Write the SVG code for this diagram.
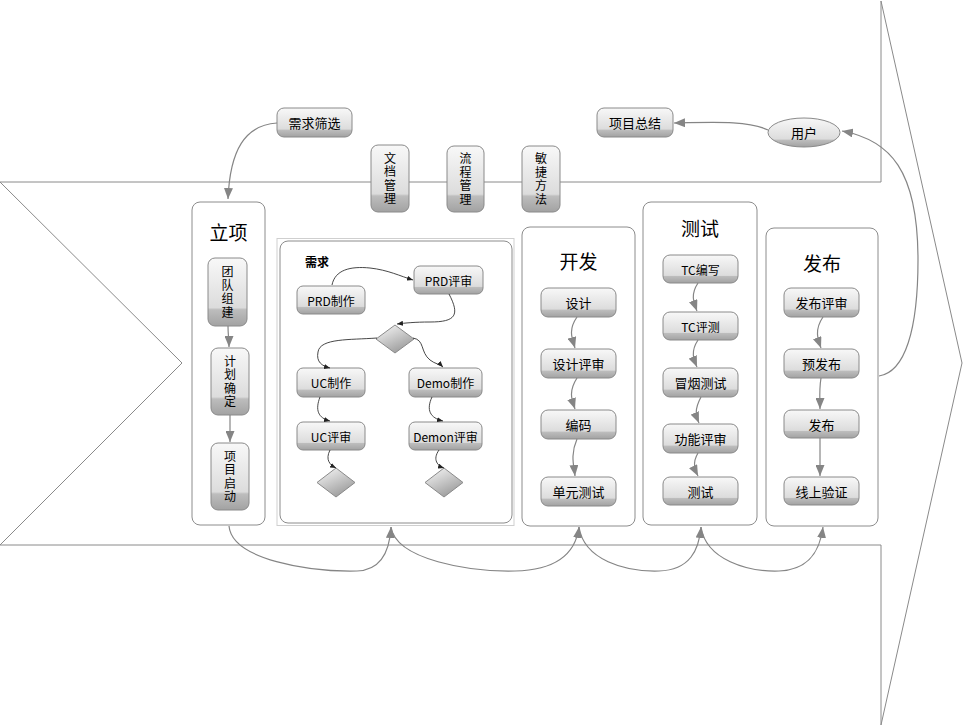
<svg xmlns="http://www.w3.org/2000/svg" width="965" height="727" viewBox="0 0 965 727">
<style>
text{font-family:"Noto Sans CJK SC","Liberation Sans",sans-serif;fill:#000;dominant-baseline:central;text-anchor:middle}
.nt{font-size:13px}
.ns{font-size:12px}
.vt{font-size:12px;writing-mode:vertical-rl;letter-spacing:1.5px}
.tt{font-size:19px}
.lbl{font-size:12px;font-weight:bold;text-anchor:start}
.node{fill:url(#g);stroke:#8a8a8a;stroke-width:1}
.box{fill:#fff;stroke:#8c8c8c;stroke-width:1}
.dia{fill:url(#gd);stroke:#8a8a8a;stroke-width:1}
.c{fill:none;stroke:#858585;stroke-width:1.2;marker-end:url(#ah)}
.ci{fill:none;stroke:#333;stroke-width:0.9;marker-end:url(#as)}
.bg{fill:none;stroke:#8a8a8a;stroke-width:1}
</style>
<defs>
<linearGradient id="g" x1="0" y1="0" x2="0" y2="1">
<stop offset="0" stop-color="#f8f8f8"/>
<stop offset="0.73" stop-color="#dcdcdc"/>
<stop offset="0.76" stop-color="#bdbdbd"/>
<stop offset="1" stop-color="#a2a2a2"/>
</linearGradient>
<linearGradient id="gd" x1="0" y1="0" x2="0.6" y2="1">
<stop offset="0" stop-color="#fbfbfb"/>
<stop offset="1" stop-color="#9c9c9c"/>
</linearGradient>
<marker id="ah" markerUnits="userSpaceOnUse" markerWidth="11" markerHeight="9" refX="11" refY="4.5" orient="auto">
<path d="M0,0 L11,4.5 L0,9 z" fill="#858585"/>
</marker>
<marker id="as" markerUnits="userSpaceOnUse" markerWidth="6" markerHeight="5" refX="6" refY="2.5" orient="auto">
<path d="M0,0 L6,2.5 L0,5 z" fill="#222"/>
</marker>
</defs>
<rect width="965" height="727" fill="#fff"/>
<polygon class="bg" points="0,182 881,182 881,1 962,363 881,725 881,545 0,545 182,363"/>

<g id="n-xqsx"><rect class="node" x="277" y="108" width="75" height="29" rx="7"/><text class="nt" x="314.5" y="122.5">需求筛选</text></g>
<g id="n-wdgl"><rect class="node" x="371" y="145" width="38" height="67" rx="7"/><text class="vt" x="390" y="179">文档管理</text></g>
<g id="n-lcgl"><rect class="node" x="447" y="146" width="37" height="66" rx="7"/><text class="vt" x="465.5" y="179.5">流程管理</text></g>
<g id="n-mjff"><rect class="node" x="522" y="146" width="38" height="66" rx="7"/><text class="vt" x="541" y="179.5">敏捷方法</text></g>
<g id="n-xmzj"><rect class="node" x="597" y="108" width="76" height="29" rx="7"/><text class="nt" x="635" y="122.5">项目总结</text></g>
<g id="n-yh"><ellipse class="node" cx="804" cy="132.5" rx="36" ry="14.5"/><text class="nt" x="804" y="132">用户</text></g>

<g id="g-lx"><rect class="box" x="192" y="202" width="73" height="323" rx="8"/><text class="tt" x="228.5" y="231">立项</text></g>
<g id="n-tdzj"><rect class="node" x="208" y="258" width="39" height="68" rx="7"/><text class="vt" x="227.5" y="292.5">团队组建</text></g>
<g id="n-jhqd"><rect class="node" x="211" y="348" width="38" height="67" rx="7"/><text class="vt" x="230" y="382">计划确定</text></g>
<g id="n-xmqd"><rect class="node" x="211" y="443" width="38" height="67" rx="7"/><text class="vt" x="230" y="477">项目启动</text></g>

<g id="g-xq"><rect x="277" y="238.5" width="237" height="287" fill="none" stroke="#cfcfcf" stroke-width="1"/><rect class="box" x="280" y="241" width="232" height="282" rx="8"/><text class="lbl" x="305" y="261">需求</text></g>
<g id="n-prdzz"><rect class="node" x="297" y="286" width="68" height="28" rx="6"/><text class="ns" x="331" y="300">PRD制作</text></g>
<g id="n-prdps"><rect class="node" x="414" y="266" width="69" height="28" rx="6"/><text class="ns" x="448.5" y="280">PRD评审</text></g>
<g id="n-d1"><polygon class="dia" points="395,325 414,339 395,353 376,339"/></g>
<g id="n-uczz"><rect class="node" x="297" y="368" width="68" height="29" rx="6"/><text class="ns" x="331" y="382.5">UC制作</text></g>
<g id="n-demozz"><rect class="node" x="409" y="368" width="73" height="29" rx="6"/><text class="ns" x="445.5" y="382.5">Demo制作</text></g>
<g id="n-ucps"><rect class="node" x="297" y="422" width="68" height="28" rx="6"/><text class="ns" x="331" y="436">UC评审</text></g>
<g id="n-demops"><rect class="node" x="409" y="422" width="73" height="28" rx="6"/><text class="ns" x="445.5" y="436">Demon评审</text></g>
<g id="n-d2"><polygon class="dia" points="336,468 355,482.5 336,497 317,482.5"/></g>
<g id="n-d3"><polygon class="dia" points="444,468 463,482.5 444,497 425,482.5"/></g>

<g id="g-kf"><rect class="box" x="522" y="227" width="113" height="299" rx="8"/><text class="tt" x="578.5" y="260">开发</text></g>
<g id="n-sj"><rect class="node" x="541" y="288" width="75" height="29" rx="7"/><text class="nt" x="578.5" y="302.5">设计</text></g>
<g id="n-sjps"><rect class="node" x="541" y="349" width="75" height="29" rx="7"/><text class="nt" x="578.5" y="363.5">设计评审</text></g>
<g id="n-bm"><rect class="node" x="541" y="410" width="75" height="29" rx="7"/><text class="nt" x="578.5" y="424.5">编码</text></g>
<g id="n-dycs"><rect class="node" x="541" y="477" width="75" height="29" rx="7"/><text class="nt" x="578.5" y="491.5">单元测试</text></g>

<g id="g-cs"><rect class="box" x="643" y="202" width="114" height="323" rx="8"/><text class="tt" x="700" y="227">测试</text></g>
<g id="n-tcbx"><rect class="node" x="663" y="255" width="75" height="28" rx="7"/><text class="ns" x="700.5" y="269">TC编写</text></g>
<g id="n-tcpc"><rect class="node" x="663" y="312" width="75" height="28" rx="7"/><text class="ns" x="700.5" y="326">TC评测</text></g>
<g id="n-mycs"><rect class="node" x="663" y="368" width="75" height="29" rx="7"/><text class="nt" x="700.5" y="382.5">冒烟测试</text></g>
<g id="n-gnps"><rect class="node" x="663" y="424" width="75" height="29" rx="7"/><text class="nt" x="700.5" y="438.5">功能评审</text></g>
<g id="n-cs"><rect class="node" x="663" y="477" width="75" height="28" rx="7"/><text class="nt" x="700.5" y="491">测试</text></g>

<g id="g-fb"><rect class="box" x="766" y="228" width="112" height="298" rx="8"/><text class="tt" x="822" y="262">发布</text></g>
<g id="n-fbps"><rect class="node" x="784" y="288" width="75" height="29" rx="7"/><text class="nt" x="821.5" y="302.5">发布评审</text></g>
<g id="n-yfb"><rect class="node" x="784" y="349" width="75" height="29" rx="7"/><text class="nt" x="821.5" y="363.5">预发布</text></g>
<g id="n-fb"><rect class="node" x="784" y="410" width="75" height="28" rx="7"/><text class="nt" x="821.5" y="424">发布</text></g>
<g id="n-sxyz"><rect class="node" x="784" y="477" width="75" height="28" rx="7"/><text class="nt" x="821.5" y="491">线上验证</text></g>

<g id="connectors">
<path class="c" d="M277,123 C245,125 230,150 228,199"/>
<path class="c" d="M768,130 C750,121 720,122 674,123"/>
<path class="c" d="M879,376 C905,372 918,330 918,260 C918,170 890,140 842,131"/>

<path class="c" d="M228,326 C228,334 229,340 229,347"/>
<path class="c" d="M230,415 C230,425 230,433 230,442"/>

<path class="ci" d="M332,285 C335,270 350,266 370,268 C388,270 400,276 413,280"/>
<path class="ci" d="M449,294 C460,315 456,322 430,322 C415,322 405,323 397,324"/>
<path class="ci" d="M377,338 C350,340 320,338 318,352 C316,362 322,366 330,368"/>
<path class="ci" d="M413,338 C425,340 420,352 430,360 C435,364 440,364 443,367"/>
<path class="ci" d="M320,397 C315,410 318,418 330,421"/>
<path class="ci" d="M432,397 C426,410 430,418 443,421"/>
<path class="ci" d="M330,450 C325,460 330,465 336,468"/>
<path class="ci" d="M439,450 C432,460 438,466 444,468"/>

<path class="c" d="M577,317 C568,330 572,338 575,348"/>
<path class="c" d="M577,378 C568,392 572,400 575,409"/>
<path class="c" d="M577,439 C570,455 574,466 575,476"/>

<path class="c" d="M698,283 C690,295 694,303 697,311"/>
<path class="c" d="M698,340 C690,352 694,360 697,367"/>
<path class="c" d="M701,397 C694,410 696,416 699,423"/>
<path class="c" d="M698,453 C692,463 695,470 698,476"/>

<path class="c" d="M823,317 C814,330 818,340 821,348"/>
<path class="c" d="M821,378 C819,390 820,400 820,409"/>
<path class="c" d="M820,438 L820,476"/>

<path class="c" d="M229,526 C232,560 310,572 357,571 C385,570 390,545 391,527"/>
<path class="c" d="M391,527 C396,560 470,572 515,571 C560,570 576,550 579,527"/>
<path class="c" d="M579,527 C584,560 625,572 659,571 C690,570 699,550 701,527"/>
<path class="c" d="M701,527 C706,560 748,572 779,571 C810,570 820,550 823,527"/>
</g>
</svg>
